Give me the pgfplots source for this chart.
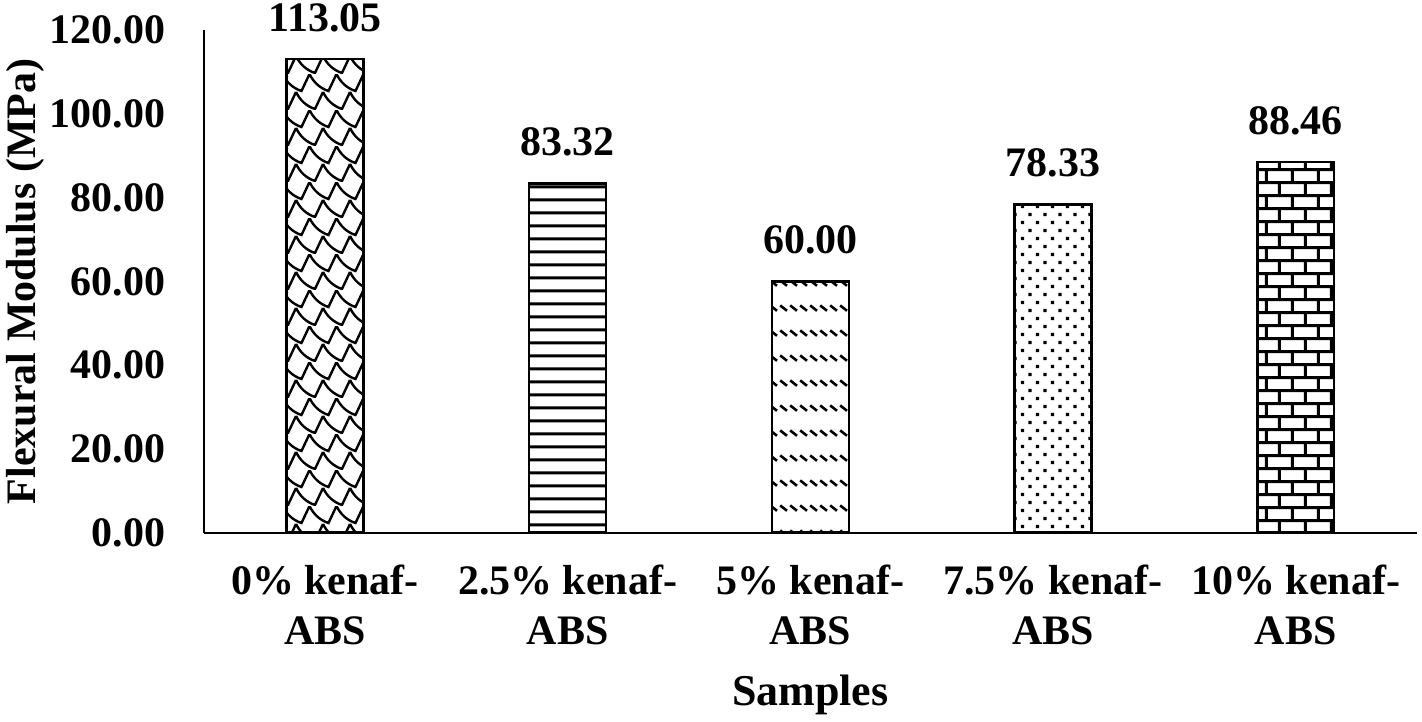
\documentclass[border=0pt]{standalone}
\usepackage{pgfplots}
\pgfplotsset{compat=1.18}
\usepackage{fontspec}
\setmainfont{Liberation Serif}
\usetikzlibrary{patterns}

\pgfdeclarepatternformonly{myhlines}{\pgfqpoint{0pt}{0pt}}{\pgfqpoint{4pt}{6.35pt}}{\pgfqpoint{4pt}{6.35pt}}{%
 \pgfsetlinewidth{1.5pt}%
 \pgfpathmoveto{\pgfqpoint{-0.2pt}{3.175pt}}\pgfpathlineto{\pgfqpoint{4.2pt}{3.175pt}}\pgfusepath{stroke}}

\pgfdeclarepatternformonly{myshingle}{\pgfqpoint{0pt}{0pt}}{\pgfqpoint{13.5pt}{18pt}}{\pgfqpoint{13.5pt}{18pt}}{%
 \pgfsetlinewidth{1.2pt}%
 \pgfpathmoveto{\pgfqpoint{0pt}{9pt}}%
 \pgfpathcurveto{\pgfqpoint{2pt}{5pt}}{\pgfqpoint{5pt}{2pt}}{\pgfqpoint{9.5pt}{0.5pt}}%
 \pgfpathlineto{\pgfqpoint{13.5pt}{9pt}}%
 \pgfpathmoveto{\pgfqpoint{6.75pt}{18pt}}%
 \pgfpathcurveto{\pgfqpoint{8.75pt}{14pt}}{\pgfqpoint{11.75pt}{11pt}}{\pgfqpoint{16.25pt}{9.5pt}}%
 \pgfpathmoveto{\pgfqpoint{-6.75pt}{18pt}}%
 \pgfpathcurveto{\pgfqpoint{-4.75pt}{14pt}}{\pgfqpoint{-1.75pt}{11pt}}{\pgfqpoint{2.75pt}{9.5pt}}%
 \pgfpathlineto{\pgfqpoint{6.75pt}{18pt}}%
 \pgfusepath{stroke}}

\pgfdeclarepatternformonly{myddash}{\pgfqpoint{0pt}{0pt}}{\pgfqpoint{5pt}{12.5pt}}{\pgfqpoint{5pt}{12.5pt}}{%
 \pgfsetlinewidth{1.3pt}%
 \pgfpathmoveto{\pgfqpoint{0.6pt}{8.3pt}}\pgfpathlineto{\pgfqpoint{4pt}{5.6pt}}\pgfusepath{stroke}}

\pgfdeclarepatternformonly{mysdots}{\pgfqpoint{0pt}{0pt}}{\pgfqpoint{7.5pt}{8pt}}{\pgfqpoint{7.5pt}{8pt}}{%
 \pgfpathrectangle{\pgfqpoint{1pt}{1pt}}{\pgfqpoint{1.6pt}{1.6pt}}%
 \pgfpathrectangle{\pgfqpoint{4.75pt}{5pt}}{\pgfqpoint{1.6pt}{1.6pt}}%
 \pgfusepath{fill}}

\pgfdeclarepatternformonly{mybricks}{\pgfqpoint{0pt}{0pt}}{\pgfqpoint{13pt}{13pt}}{\pgfqpoint{13pt}{13pt}}{%
 \pgfsetlinewidth{1.5pt}%
 \pgfpathmoveto{\pgfqpoint{-0.2pt}{3.25pt}}\pgfpathlineto{\pgfqpoint{13.2pt}{3.25pt}}%
 \pgfpathmoveto{\pgfqpoint{-0.2pt}{9.75pt}}\pgfpathlineto{\pgfqpoint{13.2pt}{9.75pt}}%
 \pgfpathmoveto{\pgfqpoint{3.25pt}{3.25pt}}\pgfpathlineto{\pgfqpoint{3.25pt}{9.75pt}}%
 \pgfpathmoveto{\pgfqpoint{9.75pt}{9.75pt}}\pgfpathlineto{\pgfqpoint{9.75pt}{13.2pt}}%
 \pgfpathmoveto{\pgfqpoint{9.75pt}{-0.2pt}}\pgfpathlineto{\pgfqpoint{9.75pt}{3.25pt}}%
 \pgfusepath{stroke}}

\pgfplotsset{/pgf/number format/.cd, fixed, fixed zerofill, precision=2, assume math mode=true}

\begin{document}
\begin{tikzpicture}
\begin{axis}[
  scale only axis, width=607pt, height=251.5pt,
  ybar, bar width=38.5pt,
  every axis plot/.append style={bar shift=0pt, draw=black, line width=1.3pt},
  xmin=-0.5, xmax=4.5, ymin=0, ymax=120,
  clip=false,
  axis x line*=bottom, axis y line*=left,
  axis line style={line width=1pt},
  xtick={0,1,2,3,4},
  xticklabels={{0\% kenaf-\\ABS},{2.5\% kenaf-\\ABS},{5\% kenaf-\\ABS},{7.5\% kenaf-\\ABS},{10\% kenaf-\\ABS}},
  ytick={0,20,40,60,80,100,120},
  major tick length=0pt,
  font=\fontsize{21}{25}\selectfont\bfseries,
  xticklabel style={align=center, anchor=north, inner sep=0pt, yshift=-16pt},
  yticklabel style={anchor=east, inner sep=0pt, xshift=-19pt,
     /pgf/number format/fixed, /pgf/number format/fixed zerofill, /pgf/number format/precision=2},
  xlabel={Samples},
  xlabel style={at={([yshift=-81pt]axis description cs:0.5,0)}, anchor=center, font=\fontsize{22}{26}\selectfont\bfseries},
  ylabel={Flexural Modulus (MPa)},
  ylabel style={at={([xshift=-89pt]axis description cs:0,0.5)}, anchor=center},
  nodes near coords,
  every node near coord/.append style={anchor=south, inner sep=0pt, yshift=13pt, black},
]
\addplot[pattern=myshingle] coordinates {(0,113.05)};
\addplot[pattern=myhlines] coordinates {(1,83.32)};
\addplot[pattern=myddash] coordinates {(2,60.00)};
\addplot[pattern=mysdots] coordinates {(3,78.33)};
\addplot[pattern=mybricks] coordinates {(4,88.46)};
\path (rel axis cs:-0.1672,-0.3638) rectangle (rel axis cs:1.0041,1.0596);
\end{axis}
\end{tikzpicture}
\end{document}
